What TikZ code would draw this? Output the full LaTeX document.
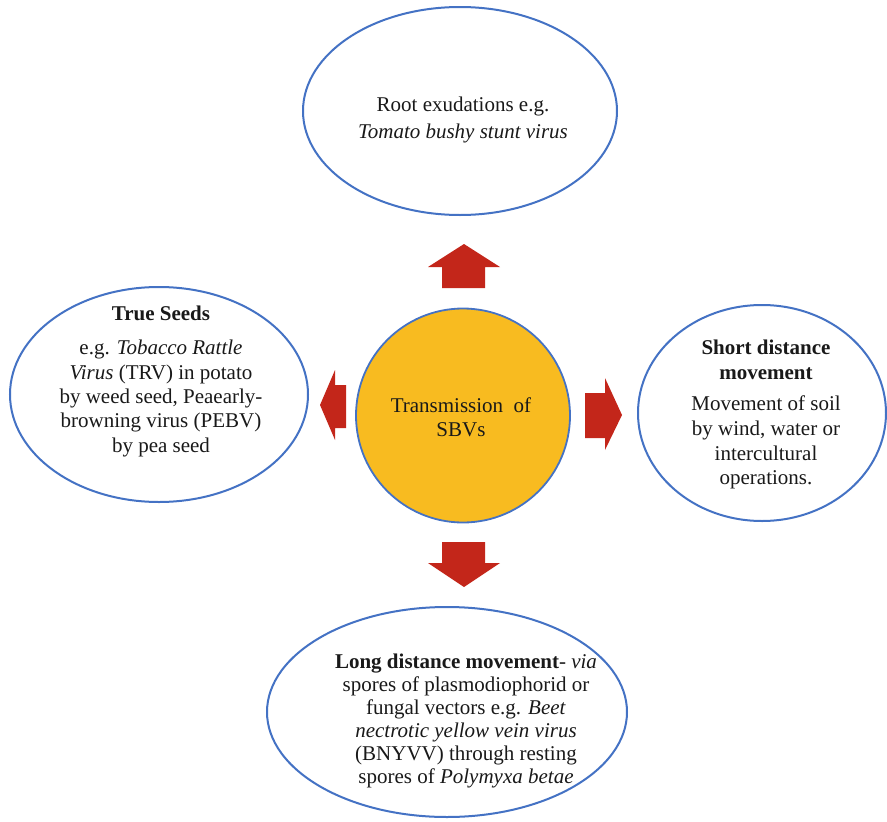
\documentclass[tikz,border=0pt]{standalone}
\usepackage{fontspec}
\setmainfont{Liberation Serif}
\usetikzlibrary{shapes.geometric}
\definecolor{rimblue}{RGB}{68,114,196}
\definecolor{hubgold}{RGB}{248,187,32}
\definecolor{arrowred}{RGB}{195,38,26}
\tikzset{
  bubble/.style={ellipse, draw=rimblue, line width=2pt, inner sep=0pt, fill=white},
  hub/.style={circle, draw=rimblue, line width=1.8pt, fill=hubgold, inner sep=0pt, minimum size=214pt},
  label/.style={align=center, inner sep=0pt, font=\fontsize{21}{24}\selectfont, text=black!90},
  blockarrow/.style={fill=arrowred, draw=none}
}
\begin{document}
\begin{tikzpicture}[x=1pt,y=-1pt]
  \useasboundingbox (0,0) rectangle (887,822);

  % outer ellipses
  \node[bubble, minimum width=314pt, minimum height=208pt] (top) at (460,111) {};
  \node[bubble, minimum width=298pt, minimum height=215pt] (left) at (159,394.5) {};
  \node[bubble, minimum width=248pt, minimum height=216pt] (right) at (762,413) {};
  \node[bubble, minimum width=360pt, minimum height=210pt] (bottom) at (447,712) {};

  % central circle
  \node[hub] (hub) at (463,415.5) {};
  \node[label] (hubtext) at (461,417) {Transmission\ \ of\\SBVs};

  % texts
  \node[label, font=\fontsize{21}{27}\selectfont] (toptext) at (463,119.5) {Root exudations e.g.\\\textit{Tomato bushy stunt virus}};
  \node[label, font=\fontsize{21}{24.3}\selectfont] (lefttext) at (161,381) {\textbf{True Seeds}\\[10.5pt]
    e.g. \textit{Tobacco Rattle}\\\textit{Virus} (TRV) in potato\\by weed seed, Peaearly-\\browning virus (PEBV)\\by pea seed};
  \node[label, font=\fontsize{21}{24.8}\selectfont] (righttext) at (766,414.5) {\textbf{Short distance}\\\textbf{movement}\\[6.5pt]
    Movement of soil\\by wind, water or\\intercultural\\operations.};
  \node[label, font=\fontsize{21}{23}\selectfont] (bottomtext) at (466,721) {\textbf{Long distance movement}- \textit{via}\\spores of plasmodiophorid or\\fungal vectors e.g. \textit{Beet}\\\textit{nectrotic yellow vein virus}\\(BNYVV) through resting\\spores of \textit{Polymyxa betae}};

  % block arrows pointing outward from the hub
  \fill[blockarrow] (464,244) -- (500,267) -- (485,267) -- (485,288) -- (442,288) -- (442,267) -- (428,267) -- cycle;
  \fill[blockarrow] (320,405) -- (335,370) -- (335,385) -- (346,385) -- (346,428) -- (335,428) -- (335,440) -- cycle;
  \fill[blockarrow] (622,415) -- (605,450) -- (605,438) -- (585,438) -- (585,393) -- (605,393) -- (605,378) -- cycle;
  \fill[blockarrow] (464,587) -- (500,563) -- (485,563) -- (485,542) -- (442,542) -- (442,563) -- (428,563) -- cycle;
\end{tikzpicture}
\end{document}
